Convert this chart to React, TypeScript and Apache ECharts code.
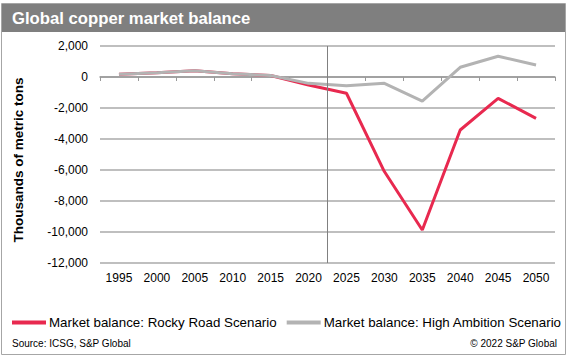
import React, { useEffect, useRef } from "react";
import * as echarts from "echarts";

const years = ["1995", "2000", "2005", "2010", "2015", "2020", "2025", "2030", "2035", "2040", "2045", "2050"];
const rockyRoad = [170, 280, 400, 210, 100, -520, -1050, -6100, -9870, -3420, -1375, -2665];
const highAmbition = [170, 280, 400, 210, 100, -410, -560, -410, -1550, 625, 1335, 775];
const seriesNames = ["Market balance: Rocky Road Scenario", "Market balance: High Ambition Scenario"];
const forecastBoundary = 6; // category boundary between 2020 and 2025
const titleText = "Global copper market balance";
const yAxisName = "Thousands of metric tons";
const sourceText = "Source: ICSG, S&P Global";
const copyrightText = "\u00a9 2022 S&P Global";

const FONT = "Arial, 'Liberation Sans', sans-serif";

export default function App() {
  const ref = useRef<HTMLDivElement>(null);
  useEffect(() => {
    if (!ref.current) return;
    const chart = echarts.init(ref.current, null, { renderer: "svg" });
    chart.setOption({
      animation: false,
      backgroundColor: "#ffffff",
      textStyle: { fontFamily: FONT },
      graphic: [
        { type: "rect", shape: { x: 1.5, y: 3.5, width: 564, height: 351 }, style: { fill: "none", stroke: "#a6a6a6", lineWidth: 1 }, z: 0 },
        { type: "rect", shape: { x: 2, y: 4, width: 563, height: 28 }, style: { fill: "#7f7f7f" }, z: 1 },
        { type: "text", x: 12, y: 18.5, style: { text: titleText, fill: "#ffffff", font: `bold 16.7px ${FONT}`, textVerticalAlign: "middle" }, z: 2 },
        { type: "text", x: 18.5, y: 160, rotation: Math.PI / 2, style: { text: yAxisName, fill: "#000000", font: `bold 13.5px ${FONT}`, textAlign: "center", textVerticalAlign: "middle" } },
        { type: "text", x: 12, y: 343, style: { text: sourceText, fill: "#000000", font: `10px ${FONT}`, textVerticalAlign: "middle" } },
        { type: "text", x: 557, y: 343, style: { text: copyrightText, fill: "#000000", font: `10px ${FONT}`, textAlign: "right", textVerticalAlign: "middle" } },
      ],
      legend: {
        left: 7,
        top: 311,
        icon: "rect",
        itemWidth: 34,
        itemHeight: 4,
        itemGap: 10,
        textStyle: { fontFamily: FONT, fontSize: 13.35, color: "#000", padding: [0, 0, 0, -2] },
        data: seriesNames,
      },
      grid: [
        { left: 100, right: 13, top: 46, bottom: 94, outerBoundsMode: "none" },
        { left: 100, right: 13, top: 46, bottom: 280, outerBoundsMode: "none" },
      ],
      xAxis: [
        {
          type: "category",
          gridIndex: 0,
          data: years,
          axisLine: { show: false, onZero: false },
          axisTick: { show: false },
          axisLabel: { margin: 9, fontSize: 12, color: "#000", fontFamily: FONT },
        },
        {
          type: "category",
          gridIndex: 1,
          data: years,
          position: "bottom",
          axisLine: { show: true, onZero: false, lineStyle: { color: "#999999", width: 1.5 } },
          axisTick: { show: true, length: 4, lineStyle: { color: "#999999", width: 1 } },
          axisLabel: { show: false },
          splitLine: { show: false },
        },
        {
          type: "value",
          gridIndex: 0,
          min: 0,
          max: years.length,
          show: false,
          splitLine: { show: false },
        },
      ],
      yAxis: [
        {
          type: "value",
          gridIndex: 0,
          min: -12000,
          max: 2000,
          interval: 2000,
          axisLine: { show: false },
          axisTick: { show: false },
          axisLabel: {
            margin: 12,
            fontSize: 12,
            color: "#000",
            fontFamily: FONT,
            formatter: (v: number) => v.toLocaleString("en-US"),
          },
          splitLine: { lineStyle: { color: "#aaaaaa", width: 1.5 } },
        },
        {
          type: "value",
          gridIndex: 1,
          min: 0,
          max: 1,
          show: false,
          splitLine: { show: false },
        },
      ],
      series: [
        {
          name: "divider",
          type: "line",
          xAxisIndex: 2,
          yAxisIndex: 0,
          data: [],
          silent: true,
          markLine: {
            silent: true,
            symbol: "none",
            label: { show: false },
            lineStyle: { color: "#808080", width: 1, type: "solid" },
            data: [{ xAxis: forecastBoundary }],
          },
        },
        {
          name: seriesNames[0],
          type: "line",
          xAxisIndex: 0,
          yAxisIndex: 0,
          data: rockyRoad,
          symbol: "none",
          lineStyle: { color: "#e8294f", width: 3 },
          itemStyle: { color: "#e8294f" },
          z: 3,
        },
        {
          name: seriesNames[1],
          type: "line",
          xAxisIndex: 0,
          yAxisIndex: 0,
          data: highAmbition,
          symbol: "none",
          lineStyle: { color: "#b3b3b3", width: 3 },
          itemStyle: { color: "#b3b3b3" },
          z: 3,
        },
      ],
    });
    return () => chart.dispose();
  }, []);
  return <div ref={ref} style={{ position: "absolute", left: 0, top: 0, width: 568, height: 357 }} />;
}
